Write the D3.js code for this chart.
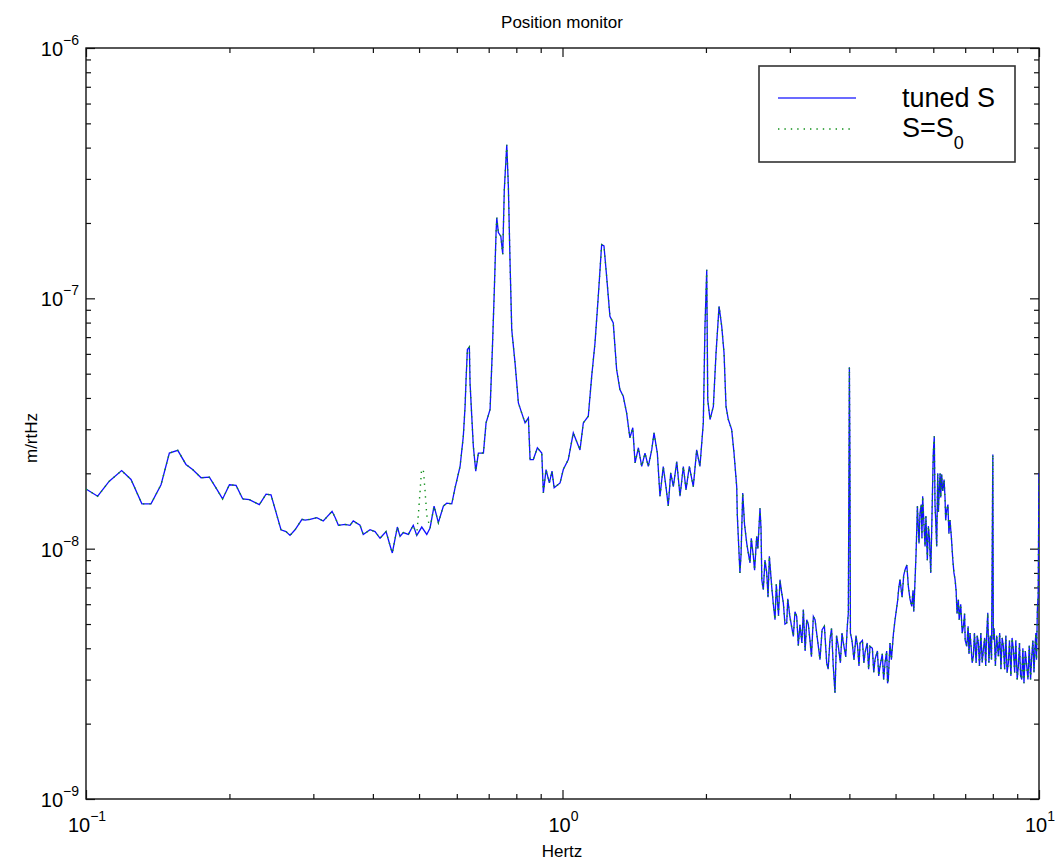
<!DOCTYPE html>
<html>
<head>
<meta charset="utf-8">
<script src="https://cdn.jsdelivr.net/npm/d3@7"></script>
<style>
  body { margin: 0; background: #fff; }
  text { font-family: "Liberation Sans", Arial, Helvetica, sans-serif; fill: #000; }
</style>
</head>
<body>
<div id="chart"></div>
<script>
// spectrum: [frequency Hz, amplitude m/rtHz]
const tunedLow = [
  [0.100, 1.73e-8], [0.1058, 1.62e-8], [0.1119, 1.86e-8], [0.1188, 2.05e-8], [0.1243, 1.89e-8],
  [0.131, 1.51e-8], [0.1369, 1.51e-8], [0.1437, 1.80e-8], [0.1496, 2.41e-8], [0.1558, 2.47e-8],
  [0.1621, 2.17e-8], [0.1674, 2.07e-8], [0.1744, 1.92e-8], [0.1815, 1.93e-8], [0.1874, 1.75e-8],
  [0.1935, 1.58e-8], [0.200, 1.80e-8], [0.2065, 1.79e-8], [0.2133, 1.58e-8], [0.2202, 1.57e-8],
  [0.2311, 1.50e-8], [0.2387, 1.65e-8], [0.2445, 1.64e-8], [0.2566, 1.19e-8], [0.2629, 1.17e-8],
  [0.268, 1.13e-8], [0.2746, 1.19e-8], [0.284, 1.31e-8], [0.2882, 1.30e-8], [0.2952, 1.31e-8],
  [0.305, 1.33e-8], [0.3147, 1.29e-8], [0.3284, 1.41e-8], [0.3335, 1.33e-8], [0.3386, 1.24e-8],
  [0.3497, 1.25e-8], [0.3582, 1.24e-8], [0.3638, 1.29e-8], [0.3759, 1.24e-8], [0.3818, 1.14e-8],
  [0.3945, 1.19e-8], [0.4042, 1.17e-8], [0.4141, 1.10e-8], [0.4263, 1.17e-8], [0.4346, 1.03e-8],
  [0.4394, 9.61e-9], [0.4502, 1.22e-8], [0.4561, 1.12e-8], [0.4633, 1.16e-8], [0.4748, 1.14e-8],
  [0.4862, 1.24e-8], [0.4945, 1.13e-8], [0.5066, 1.22e-8], [0.519, 1.14e-8], [0.5273, 1.21e-8],
  [0.5376, 1.48e-8], [0.5489, 1.27e-8], [0.5624, 1.48e-8], [0.5716, 1.52e-8], [0.5856, 1.51e-8],
  [0.595, 1.75e-8], [0.6096, 2.13e-8], [0.6192, 2.81e-8], [0.6245, 3.70e-8], [0.6275, 4.73e-8],
  [0.6315, 6.24e-8], [0.6376, 6.39e-8], [0.6397, 4.59e-8], [0.645, 3.38e-8], [0.650, 2.56e-8],
  [0.6576, 2.04e-8], [0.666, 2.41e-8], [0.6824, 2.41e-8], [0.6912, 3.18e-8], [0.7047, 3.60e-8],
  [0.7125, 6.24e-8], [0.7193, 1.08e-7], [0.7254, 1.83e-7], [0.7279, 2.10e-7], [0.7335, 1.83e-7],
  [0.7422, 1.77e-7], [0.7492, 1.50e-7], [0.7549, 2.72e-7], [0.7639, 4.11e-7], [0.7698, 2.80e-7],
  [0.7761, 1.39e-7], [0.7825, 7.50e-8], [0.7951, 5.52e-8], [0.808, 3.82e-8], [0.8213, 3.48e-8],
  [0.8345, 3.18e-8], [0.848, 3.33e-8], [0.855, 2.27e-8], [0.8685, 2.27e-8], [0.8857, 2.53e-8],
  [0.9047, 2.41e-8], [0.9117, 1.67e-8], [0.9236, 2.07e-8], [0.9384, 1.83e-8], [0.9506, 2.04e-8],
  [0.9604, 1.75e-8], [0.9883, 1.83e-8]
]

const tunedMid = [
  [1.0039, 2.07e-8], [1.0284, 2.27e-8], [1.0536, 2.90e-8], [1.0882, 2.48e-8], [1.1058, 3.18e-8],
  [1.1327, 3.38e-8], [1.1515, 4.88e-8], [1.170, 6.63e-8], [1.1888, 1.02e-7], [1.2083, 1.64e-7],
  [1.2219, 1.62e-7], [1.2379, 1.22e-7], [1.2575, 8.47e-8], [1.278, 7.98e-8], [1.299, 5.19e-8],
  [1.3197, 4.32e-8], [1.3412, 4.06e-8], [1.3634, 3.48e-8], [1.385, 2.77e-8], [1.4044, 3.04e-8],
  [1.420, 2.20e-8], [1.443, 2.53e-8], [1.4663, 2.13e-8], [1.4898, 2.41e-8], [1.5138, 2.13e-8],
  [1.539, 2.48e-8], [1.5563, 2.90e-8], [1.5813, 2.41e-8], [1.6017, 1.62e-8], [1.6273, 2.13e-8],
  [1.6486, 1.77e-8], [1.667, 1.48e-8], [1.687, 2.01e-8], [1.7086, 1.77e-8], [1.737, 2.23e-8],
  [1.7645, 1.62e-8], [1.793, 2.13e-8], [1.8164, 1.72e-8], [1.8457, 2.13e-8], [1.8813, 1.77e-8],
  [1.9124, 2.48e-8], [1.9428, 2.13e-8], [1.9747, 3.18e-8], [1.9908, 7.73e-8], [2.0077, 1.30e-7],
  [2.0174, 3.94e-8], [2.0398, 3.28e-8], [2.073, 3.70e-8], [2.100, 6.05e-8], [2.131, 9.29e-8],
  [2.1585, 7.73e-8], [2.1828, 6.05e-8], [2.2038, 3.70e-8], [2.2285, 3.28e-8], [2.265, 2.99e-8],
  [2.2906, 2.41e-8], [2.3206, 1.77e-8], [2.3274, 1.36e-8]
]

const tunedHigh = [
  [2.357, 8.0e-9], [2.37, 9.5e-9], [2.389, 1.67e-8], [2.41, 1.25e-8], [2.436, 1.05e-8],
  [2.45, 9.8e-9], [2.4746, 8.77e-9], [2.49, 1.1e-8], [2.515, 9.32e-9], [2.53, 8.2e-9],
  [2.556, 1.12e-8], [2.57, 1.0e-8], [2.597, 1.45e-8], [2.61, 1.2e-8], [2.62, 7.5e-9],
  [2.639, 6.86e-9], [2.66, 9.0e-9], [2.683, 8.0e-9], [2.70, 6.4e-9], [2.717, 9.32e-9],
  [2.73, 8.3e-9], [2.748, 7.07e-9], [2.77, 6.0e-9], [2.7924, 5.20e-9], [2.81, 7.2e-9],
  [2.824, 6.25e-9], [2.84, 5.4e-9], [2.860, 7.52e-9], [2.88, 6.8e-9], [2.907, 6.07e-9],
  [2.93, 5.0e-9], [2.955, 5.05e-9], [2.97, 6.3e-9], [3.0, 5.36e-9], [3.051, 4.46e-9],
  [3.075, 5.6e-9], [3.101, 5.36e-9], [3.125, 4.1e-9], [3.150, 4.97e-9], [3.18, 4.2e-9],
  [3.2025, 5.71e-9], [3.23, 3.9e-9], [3.2554, 5.20e-9], [3.28, 5.0e-9], [3.307, 4.29e-9],
  [3.33, 3.7e-9], [3.361, 5.36e-9], [3.3885, 5.20e-9], [3.415, 4.6e-9], [3.443, 4.07e-9],
  [3.47, 3.6e-9], [3.506, 4.75e-9], [3.545, 4.9e-9], [3.585, 3.50e-9], [3.61, 3.3e-9],
  [3.642, 4.33e-9], [3.67, 4.8e-9], [3.70, 3.4e-9], [3.7316, 2.65e-9], [3.76, 4.5e-9],
  [3.792, 4.07e-9], [3.83, 3.5e-9], [3.86, 4.6e-9], [3.885, 4.20e-9], [3.93, 3.7e-9],
  [3.96, 4.9e-9], [3.980, 5.54e-9], [4.00, 5.3e-8], [4.01, 2.4e-8], [4.02, 4.60e-9],
  [4.05, 4.3e-9], [4.09, 3.6e-9], [4.13, 4.5e-9], [4.1615, 4.07e-9], [4.19, 3.4e-9],
  [4.212, 4.20e-9], [4.26, 4.3e-9], [4.29, 3.5e-9], [4.3146, 3.84e-9], [4.36, 4.2e-9],
  [4.39, 3.3e-9], [4.419, 4.07e-9], [4.47, 4.0e-9], [4.50, 3.2e-9], [4.528, 3.61e-9],
  [4.58, 3.9e-9], [4.61, 3.1e-9], [4.638, 3.39e-9], [4.69, 3.8e-9], [4.72, 3.0e-9],
  [4.752, 3.50e-9], [4.79, 3.9e-9], [4.81, 2.9e-9], [4.828, 3.00e-9], [4.867, 4.20e-9],
  [4.90, 3.6e-9], [4.95, 4.6e-9], [4.988, 5.20e-9], [5.05, 6.2e-9], [5.08, 7.0e-9],
  [5.109, 7.52e-9], [5.16, 6.4e-9], [5.20, 7.8e-9], [5.235, 8.24e-9], [5.28, 8.6e-9],
  [5.319, 7.07e-9], [5.36, 6.3e-9], [5.407, 5.88e-9], [5.44, 6.8e-9], [5.46, 5.6e-9],
  [5.494, 7.52e-9], [5.52, 9.5e-9], [5.54, 1.2e-8], [5.556, 1.48e-8], [5.60, 1.05e-8],
  [5.627, 1.39e-8], [5.66, 1.5e-8], [5.68, 1.1e-8], [5.70, 1.62e-8], [5.73, 1.3e-8],
  [5.766, 1.02e-8], [5.79, 1.35e-8], [5.83, 9.0e-9], [5.859, 1.23e-8], [5.89, 1.1e-8],
  [5.927, 8.0e-9], [5.96, 1.3e-8], [6.0, 2.41e-8], [6.029, 2.81e-8], [6.05, 1.5e-8],
  [6.07, 1.3e-8], [6.10, 1.02e-8], [6.13, 2.0e-8], [6.15, 1.4e-8], [6.176, 1.72e-8],
  [6.20, 2.0e-8], [6.22, 1.6e-8], [6.248, 1.98e-8], [6.28, 1.7e-8], [6.321, 1.89e-8],
  [6.35, 1.6e-8], [6.37, 1.3e-8], [6.404, 1.43e-8], [6.44, 1.5e-8], [6.47, 1.15e-8],
  [6.505, 1.30e-8], [6.55, 1.1e-8], [6.593, 9.04e-9], [6.63, 8.0e-9], [6.666, 7.52e-9],
  [6.70, 6.8e-9], [6.73, 5.5e-9], [6.773, 6.25e-9], [6.80, 5.2e-9], [6.85, 6.0e-9],
  [6.90, 4.6e-9], [6.939, 4.89e-9], [6.98, 5.5e-9], [7.0, 4.3e-9], [7.054, 4.07e-9],
  [7.10, 4.9e-9], [7.13, 3.8e-9], [7.166, 4.60e-9], [7.20, 4.1e-9], [7.24, 3.5e-9],
  [7.282, 3.72e-9], [7.32, 4.6e-9], [7.38, 3.5e-9], [7.42, 4.5e-9], [7.46, 4.20e-9],
  [7.50, 3.4e-9], [7.55, 4.6e-9], [7.60, 3.5e-9], [7.643, 3.95e-9], [7.69, 4.4e-9],
  [7.73, 3.4e-9], [7.76, 4.4e-9], [7.807, 5.54e-9], [7.85, 3.5e-9], [7.90, 4.5e-9],
  [7.95, 3.6e-9], [8.0, 2.38e-8], [8.02, 4.33e-9], [8.05, 4.8e-9], [8.10, 3.4e-9],
  [8.15, 4.5e-9], [8.217, 3.72e-9], [8.27, 4.6e-9], [8.32, 3.3e-9], [8.37, 4.4e-9],
  [8.419, 4.07e-9], [8.47, 3.3e-9], [8.52, 4.5e-9], [8.57, 3.2e-9], [8.624, 3.50e-9],
  [8.67, 4.3e-9], [8.73, 3.1e-9], [8.78, 4.4e-9], [8.835, 3.95e-9], [8.89, 3.2e-9],
  [8.94, 4.3e-9], [9.0, 3.0e-9], [9.051, 3.39e-9], [9.10, 4.2e-9], [9.15, 3.1e-9],
  [9.20, 3.00e-9], [9.25, 4.0e-9], [9.30, 2.9e-9], [9.36, 3.9e-9], [9.425, 3.39e-9],
  [9.48, 3.0e-9], [9.54, 4.1e-9], [9.60, 3.0e-9], [9.656, 3.72e-9], [9.71, 4.3e-9],
  [9.76, 3.2e-9], [9.811, 4.07e-9], [9.85, 4.6e-9], [9.88, 3.6e-9], [9.922, 5.71e-9],
  [9.96, 6.5e-9], [10.0, 2.0e-8]
]

// S=S0 differs from tuned S only around 0.5 Hz
const s0Spike = [
  [0.5022, 1.67e-8], [0.506, 2.07e-8], [0.5104, 2.07e-8], [0.5145, 1.72e-8], [0.519, 1.36e-8]
]
const s0SpikeRange = [0.4945, 0.5273]

const xMajor = [0.1, 1, 10]
const yMajor = [1e-9, 1e-8, 1e-7, 1e-6]
const xLabels = [{ v: 0.1, e: '−1' }, { v: 1, e: '0' }, { v: 10, e: '1' }]
const yLabels = [{ v: 1e-9, e: '−9' }, { v: 1e-8, e: '−8' }, { v: 1e-7, e: '−7' }, { v: 1e-6, e: '−6' }]
const legendItems = ['tuned S', 'S=S']

const tuned = d3.sort([...tunedLow, ...tunedMid, ...tunedHigh], d => d[0])
const s0 = d3.sort(
  tuned.filter(d => d[0] <= s0SpikeRange[0] || d[0] >= s0SpikeRange[1]).concat(s0Spike),
  d => d[0])

const width = 1059
const height = 865
const plotLeft = 86
const plotRight = 1039
const plotTop = 48
const plotBottom = 799

const x = d3.scaleLog().domain([0.1, 10]).range([plotLeft, plotRight])
const y = d3.scaleLog().domain([1e-9, 1e-6]).range([plotBottom, plotTop])

const minorOf = (majors) => {
  const out = []
  for (let i = 0; i < majors.length - 1; i++) {
    for (let k = 2; k <= 9; k++) out.push(majors[i] * k)
  }
  return out
}
const xMinor = minorOf(xMajor)
const yMinor = minorOf(yMajor)

const svg = d3.select('#chart')
  .append('svg')
  .attr('width', width)
  .attr('height', height)

svg.append('rect').attr('width', width).attr('height', height).attr('fill', '#fff')

// ticks on all four sides, pointing inward
function ticks (axis, vals, size, transform) {
  const g = svg.append('g')
    .attr('transform', transform)
    .call(axis.tickValues(vals).tickSize(size).tickSizeOuter(0).tickFormat(''))
  g.select('.domain').remove()
  g.selectAll('line').attr('stroke', '#111').attr('stroke-width', 1.2)
}
ticks(d3.axisBottom(x), xMinor, -5, `translate(0,${plotBottom})`)
ticks(d3.axisBottom(x), xMajor, -9, `translate(0,${plotBottom})`)
ticks(d3.axisTop(x), xMinor, -5, `translate(0,${plotTop})`)
ticks(d3.axisTop(x), xMajor, -9, `translate(0,${plotTop})`)
ticks(d3.axisLeft(y), yMinor, -5, `translate(${plotLeft},0)`)
ticks(d3.axisLeft(y), yMajor, -9, `translate(${plotLeft},0)`)
ticks(d3.axisRight(y), yMinor, -5, `translate(${plotRight},0)`)
ticks(d3.axisRight(y), yMajor, -9, `translate(${plotRight},0)`)

svg.append('rect')
  .attr('x', plotLeft).attr('y', plotTop)
  .attr('width', plotRight - plotLeft).attr('height', plotBottom - plotTop)
  .attr('fill', 'none')
  .attr('stroke', '#111')
  .attr('stroke-width', 1.4)

// tick labels 10^n
svg.selectAll('.xlab')
  .data(xLabels)
  .enter()
  .append('text')
  .attr('class', 'xlab')
  .attr('x', d => x(d.v) + 1)
  .attr('y', 832)
  .attr('text-anchor', 'middle')
  .style('font-size', '20px')
  .each(function (d) {
    const t = d3.select(this)
    t.append('tspan').text('10')
    t.append('tspan').attr('dy', -11).style('font-size', '14px').text(d.e)
  })

svg.selectAll('.ylab')
  .data(yLabels)
  .enter()
  .append('text')
  .attr('class', 'ylab')
  .attr('x', 79)
  .attr('y', d => y(d.v) + 8)
  .attr('text-anchor', 'end')
  .style('font-size', '20px')
  .each(function (d) {
    const t = d3.select(this)
    t.append('tspan').text('10')
    t.append('tspan').attr('dy', -11).style('font-size', '14px').text(d.e)
  })

svg.append('text')
  .attr('x', 562).attr('y', 28)
  .attr('text-anchor', 'middle')
  .style('font-size', '17px')
  .text('Position monitor')

svg.append('text')
  .attr('x', 562).attr('y', 857)
  .attr('text-anchor', 'middle')
  .style('font-size', '17px')
  .text('Hertz')

svg.append('text')
  .attr('transform', 'translate(37,438) rotate(-90)')
  .attr('text-anchor', 'middle')
  .style('font-size', '17px')
  .text('m/rtHz')

// curves
svg.append('clipPath').attr('id', 'plot')
  .append('rect')
  .attr('x', plotLeft).attr('y', plotTop)
  .attr('width', plotRight - plotLeft).attr('height', plotBottom - plotTop)

const line = d3.line().x(d => x(d[0])).y(d => y(d[1]))

svg.append('path')
  .datum(tuned)
  .attr('clip-path', 'url(#plot)')
  .attr('d', line)
  .attr('fill', 'none')
  .attr('stroke', '#1010ff')
  .attr('stroke-width', 1.3)

svg.append('path')
  .datum(s0)
  .attr('clip-path', 'url(#plot)')
  .attr('d', line)
  .attr('fill', 'none')
  .attr('stroke', '#10901a')
  .attr('stroke-width', 1.4)
  .attr('stroke-dasharray', '1.4,5')

// legend
const legend = svg.append('g')
legend.append('rect')
  .attr('x', 759).attr('y', 66)
  .attr('width', 256).attr('height', 96)
  .attr('fill', '#fff')
  .attr('stroke', '#333')
  .attr('stroke-width', 1.6)
legend.append('line')
  .attr('x1', 778).attr('x2', 856).attr('y1', 98).attr('y2', 98)
  .attr('stroke', '#3a3aff').attr('stroke-width', 1.3)
legend.append('line')
  .attr('x1', 778).attr('x2', 850).attr('y1', 129).attr('y2', 129)
  .attr('stroke', '#10901a').attr('stroke-width', 1.4)
  .attr('stroke-dasharray', '1.4,5')
legend.append('text')
  .attr('x', 902).attr('y', 107)
  .style('font-size', '27px')
  .text(legendItems[0])
const l2 = legend.append('text')
  .attr('x', 902).attr('y', 137)
  .style('font-size', '27px')
l2.append('tspan').text(legendItems[1])
l2.append('tspan').attr('dy', 12).style('font-size', '18px').text('0')
</script>
</body>
</html>
